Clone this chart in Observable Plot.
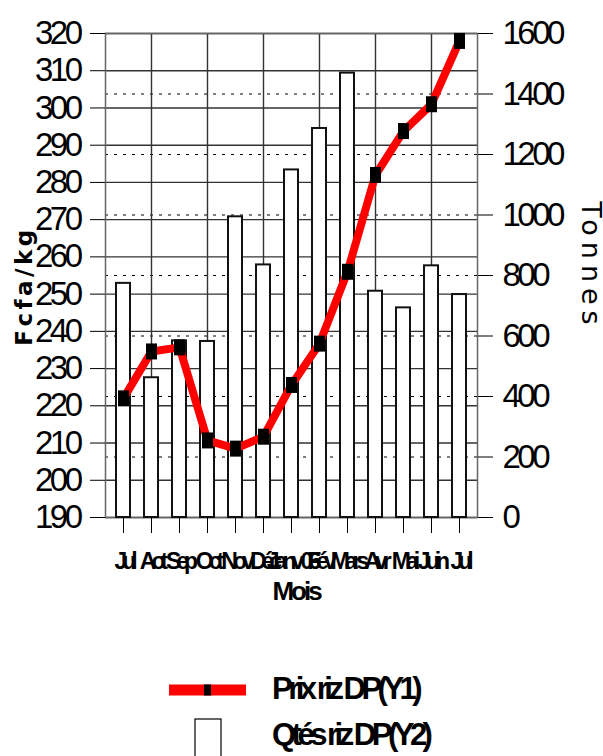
<!DOCTYPE html>
<html><head><meta charset="utf-8">
<script src="https://cdn.jsdelivr.net/npm/d3@7"></script>
<script src="https://cdn.jsdelivr.net/npm/@observablehq/plot@0.6"></script>
<style>
body{margin:0;background:#fff;}
#chart{position:relative;width:603px;height:756px;overflow:hidden;font-family:"Liberation Sans",Arial,sans-serif;background:#fff;}
#chart svg{position:absolute;left:0;}
</style></head><body><div id="chart"></div>
<script>
const months = ["Jul","Aot","Sep","Oct","Nov","Déc","Janv 06","Fév","Mars","Avr","Mai","Juin","Jul"];
const prix = [222, 234.6, 235.7, 210.7, 208.5, 211.7, 225.6, 236.7, 256, 282, 293.8, 301, 318];
const qtes = [774, 462, 584, 582, 994, 835, 1149, 1286, 1469, 748, 693, 832, 737];
const leftTicks = [190,200,210,220,230,240,250,260,270,280,290,300,310,320];
const rightTicks = [0,200,400,600,800,1000,1200,1400,1600];
const Y1 = [190, 320], Y2 = [0, 1600];
const toY1 = v => Y1[0] + (v - Y2[0]) * (Y1[1] - Y1[0]) / (Y2[1] - Y2[0]);
const fromY1 = v => Y2[0] + (v - Y1[0]) * (Y2[1] - Y2[0]) / (Y1[1] - Y1[0]);
const idx = months.map((_, i) => i);
const data = idx.map(i => ({i, prix: prix[i], qte: qtes[i], q1: toY1(qtes[i])}));
const marker = {draw(ctx) { ctx.moveTo(-5.5, -8); ctx.lineTo(5.5, -8); ctx.lineTo(5.5, 8); ctx.lineTo(-5.5, 8); ctx.closePath(); }};

const plot = Plot.plot({
  width: 603, height: 620,
  marginTop: 33, marginBottom: 103, marginLeft: 105, marginRight: 126,
  style: {fontFamily: "Liberation Sans, Arial, sans-serif", background: "white", color: "black", overflow: "visible"},
  x: {type: "band", domain: idx, paddingInner: 0.5, paddingOuter: 0.25},
  y: {domain: Y1},
  marks: [
    Plot.gridY(leftTicks, {stroke: "#333", strokeOpacity: 1, strokeWidth: 1.4}),
    Plot.gridY(rightTicks.slice(1, -1).map(toY1), {stroke: "#000", strokeOpacity: 1, strokeDasharray: "3,6", strokeWidth: 1}),
    Plot.gridX(idx.filter(i => i % 2 === 1), {stroke: "#333", strokeOpacity: 1, strokeWidth: 1.4}),
    Plot.frame({stroke: "#666", strokeWidth: 1.5}),
    Plot.barY(data, {x: "i", y1: Y1[0], y2: "q1", fill: "white", stroke: "#111", strokeWidth: 2}),
    Plot.lineY(data, {x: "i", y: "prix", stroke: "#ff0000", strokeWidth: 8, curve: "linear"}),
    Plot.dot(data, {x: "i", y: "prix", symbol: marker, fill: "black", stroke: "none"}),
    Plot.axisY(leftTicks, {anchor: "left", tickSize: 15, tickPadding: 11, fontSize: 33, label: null, stroke: "#000"}),
    Plot.axisY(rightTicks.map(toY1), {anchor: "right", tickSize: 15, tickPadding: 10, fontSize: 33, label: null, stroke: "#000", tickFormat: v => String(Math.round(fromY1(v)))}),
    Plot.axisX(idx, {anchor: "bottom", tickSize: 16, tickPadding: 19, fontSize: 23, label: null, stroke: "#000", tickFormat: i => months[i]})
  ]
});
plot.style.top = "0px";
document.getElementById("chart").appendChild(plot);

const svg = d3.select(plot);
svg.selectAll('g[aria-label="y-axis tick label"] text').style("letter-spacing", "-3.5px");
svg.selectAll('g[aria-label="x-axis tick label"] text').style("letter-spacing", "-5px").style("font-weight", "bold");

svg.append("text").attr("transform", "translate(32,286) rotate(-90)")
  .attr("text-anchor", "middle").style("font-family", "DejaVu Sans").style("font-weight", "bold")
  .style("font-size", "23px").style("letter-spacing", "3.5px").attr("fill", "#000").text("Fcfa/kg");
svg.append("text").attr("transform", "translate(582,266) rotate(90)")
  .attr("text-anchor", "middle").style("font-family", "DejaVu Sans")
  .style("font-size", "27px").style("letter-spacing", "6px").attr("fill", "#000").text("Tonnes");
svg.append("text").attr("x", 296).attr("y", 600)
  .attr("text-anchor", "middle").style("font-family", "Liberation Sans").style("font-weight", "bold")
  .style("font-size", "26px").style("letter-spacing", "-3px").attr("fill", "#000").text("Mois");

// Legend
const leg = d3.select("#chart").append("svg").attr("width", 603).attr("height", 136).style("top", "620px");
leg.append("rect").attr("x", 169).attr("y", 64.5).attr("width", 77).attr("height", 11).attr("fill", "#ff0000");
leg.append("rect").attr("x", 204).attr("y", 64.5).attr("width", 7).attr("height", 11).attr("fill", "#000");
leg.append("text").attr("x", 272).attr("y", 79).style("font-family", "Liberation Sans").style("font-weight", "bold")
  .style("font-size", "31px").style("letter-spacing", "-4.5px").attr("fill", "#000").text("Prix riz DP(Y1)");
leg.append("rect").attr("x", 195).attr("y", 99).attr("width", 26).attr("height", 60).attr("fill", "#fff").attr("stroke", "#000").attr("stroke-width", 1.2);
leg.append("text").attr("x", 272).attr("y", 125).style("font-family", "Liberation Sans").style("font-weight", "bold")
  .style("font-size", "31px").style("letter-spacing", "-4.5px").attr("fill", "#000").text("Qtés riz DP(Y2)");
</script></body></html>
